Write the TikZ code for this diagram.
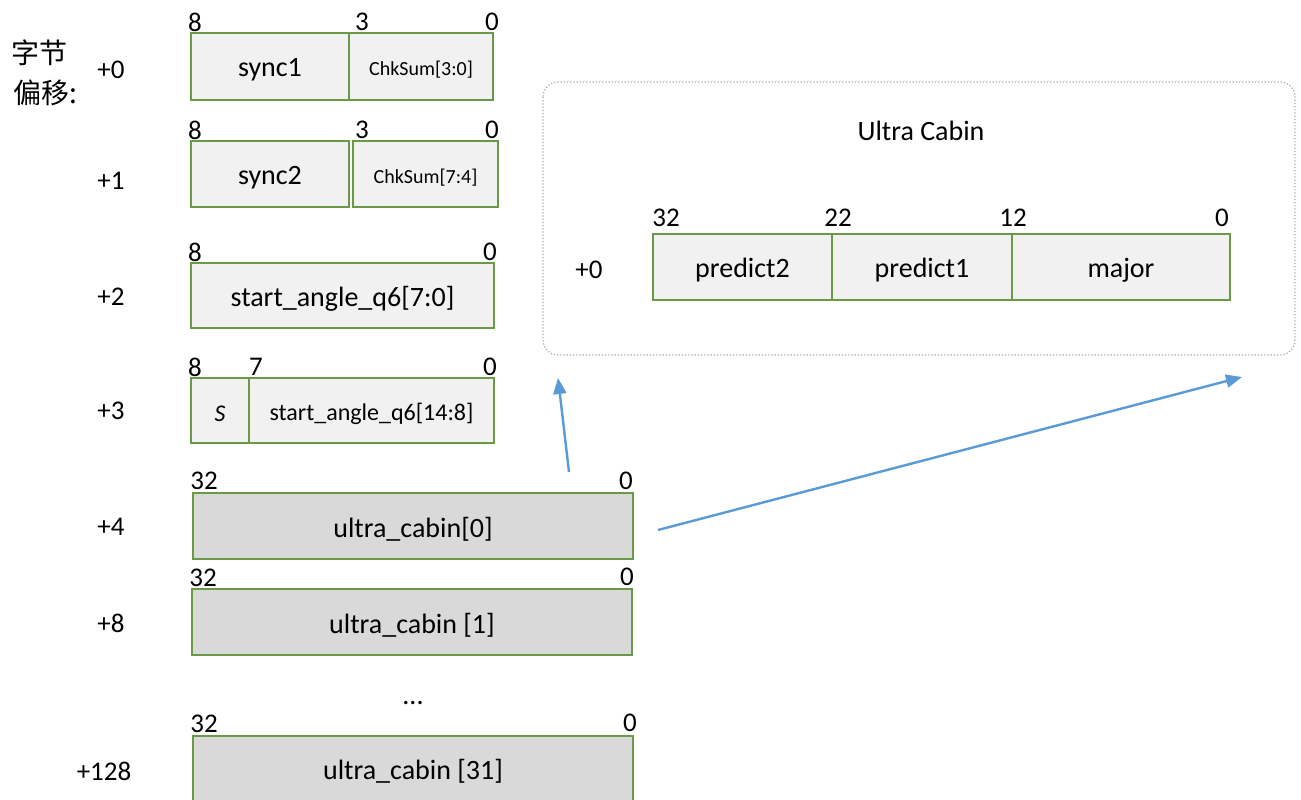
\documentclass[tikz,border=0pt]{standalone}
\usepackage{fontspec}
\setmainfont{Carlito}
\newfontfamily\cjk{Noto Sans CJK SC}
\usetikzlibrary{arrows.meta}
\definecolor{fgreen}{HTML}{6A9A47}
\definecolor{lgray}{HTML}{F1F1F1}
\definecolor{dgray}{HTML}{D9D9D9}
\definecolor{ablue}{HTML}{5B9BD5}
\definecolor{dotgray}{HTML}{A6A6A6}
\tikzset{
  fld/.style={draw=fgreen, line width=1.1pt, fill=lgray, inner sep=0pt, outer sep=0pt},
  dfld/.style={fld, fill=dgray},
  ftxt/.style={inner sep=0pt, font=\fontsize{28}{33}\selectfont},
  small/.style={font=\fontsize{20}{24}\selectfont},
  mid/.style={font=\fontsize{24}{28}\selectfont},
  lbl/.style={inner sep=0pt, font=\fontsize{27}{32}\selectfont},
  conn/.style={draw=ablue, line width=2.4pt, -{Triangle[length=16pt,width=13pt]}}
}
% style, name, x1, y1, x2, y2, text style, text
\def\mkbox#1#2#3#4#5#6#7#8{\node[#1, minimum width={#5-#3}, minimum height={#6-#4}] (#2) at ({(#3+#5)/2},{(#4+#6)/2}) {};
  \node[ftxt,#7] (#2t) at ([yshift=-3.5pt]#2.center) {#8};}
\begin{document}
\begin{tikzpicture}[x=1pt,y=-1pt]
\useasboundingbox (0,0) rectangle (1301,800);
\fill[white] (0,0) rectangle (1301,800);

\mkbox{fld}{syncA}{191}{33}{349}{100}{}{sync1}
\mkbox{fld}{chkA}{349}{33}{493}{100}{small}{ChkSum[3:0]}
\mkbox{fld}{syncB}{191}{141}{349}{207}{}{sync2}
\mkbox{fld}{chkB}{353}{141}{498}{207}{small}{ChkSum[7:4]}
\mkbox{fld}{angA}{191}{263}{494}{328}{}{start\_angle\_q6[7:0]}
\mkbox{fld}{sbit}{191}{378}{249}{443}{mid}{\itshape S}
\mkbox{fld}{angB}{249}{378}{494}{443}{mid}{start\_angle\_q6[14:8]}
\mkbox{dfld}{ucA}{193}{493}{633}{559}{}{ultra\_cabin[0]}
\mkbox{dfld}{ucB}{192}{589}{632}{655}{}{ultra\_cabin [1]}
\node[dfld, minimum width=440, minimum height=70] (ucC) at (413,771) {};
\node[ftxt] (ucCt) at (413,771) {ultra\_cabin [31]};

% dotted container
\draw[dotgray, line width=1.2pt, dotted, rounded corners=15pt] (543,82) rectangle (1295,355);
\node[ftxt] (title) at (921,131) {Ultra Cabin};
\mkbox{fld}{pA}{653}{234}{832}{300}{}{predict2}
\mkbox{fld}{pB}{832}{234}{1012}{300}{}{predict1}
\mkbox{fld}{pC}{1012}{234}{1230}{300}{}{major}
\node[lbl] (offR) at (589,270) {+0};

% bit numbers
\node[lbl] (b1) at (195,22) {8};
\node[lbl] (b2) at (362,22) {3};
\node[lbl] (b3) at (492,22) {0};
\node[lbl] (b4) at (195,130) {8};
\node[lbl] (b5) at (362,130) {3};
\node[lbl] (b6) at (492,130) {0};
\node[lbl] (b7) at (195,252) {8};
\node[lbl] (b8) at (490,252) {0};
\node[lbl] (b9) at (195,367) {8};
\node[lbl] (b10) at (256,367) {7};
\node[lbl] (b11) at (490,367) {0};
\node[lbl] (b12) at (204,481) {32};
\node[lbl] (b13) at (626,481) {0};
\node[lbl] (b14) at (203,577.5) {32};
\node[lbl] (b15) at (627,577) {0};
\node[lbl] (b16) at (204,724) {32};
\node[lbl] (b17) at (630,723) {0};
\node[lbl] (r1) at (666,217.5) {32};
\node[lbl] (r2) at (838,217.5) {22};
\node[lbl] (r3) at (1013,217.5) {12};
\node[lbl] (r4) at (1222,217.5) {0};

% offsets
\node[lbl] (o0) at (111,70) {+0};
\node[lbl] (o1) at (111,180.5) {+1};
\node[lbl] (o2) at (111,297) {+2};
\node[lbl] (o3) at (111,411) {+3};
\node[lbl] (o4) at (111,527) {+4};
\node[lbl] (o8) at (111,623) {+8};
\node[lbl] (o128) at (104,771) {+128};
\node[lbl, font=\cjk\fontsize{28}{33}\selectfont] (zj) at (40,53) {字节};
\node[lbl, font=\cjk\fontsize{28}{33}\selectfont] (py) at (45,93) {偏移:};
\node[ftxt] (dots) at (413,703) {...};

% arrows
\coordinate (a1s) at (569,472);
\coordinate (a1e) at (558,378);
\coordinate (a2s) at (658,530);
\coordinate (a2e) at (1242,377);
\draw[conn] (a1s) -- (a1e);
\draw[conn] (a2s) -- (a2e);
\end{tikzpicture}
\end{document}
